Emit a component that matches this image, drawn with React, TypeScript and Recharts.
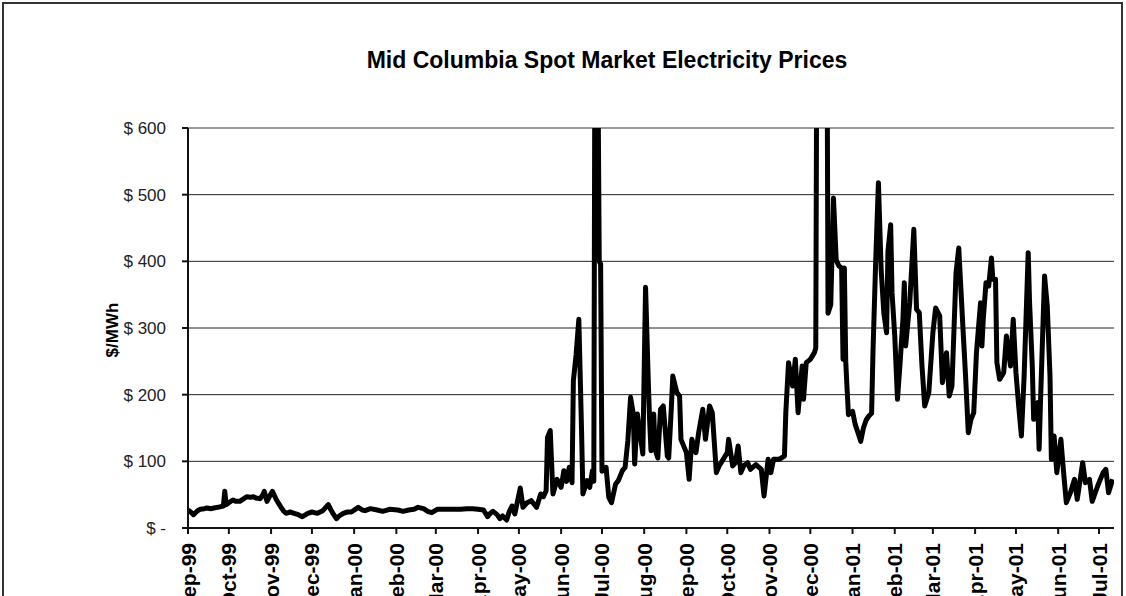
import React from "react";
import { LineChart, Line, XAxis, YAxis, CartesianGrid, ReferenceLine } from "recharts";

const monthLabels = ["Sep-99","Oct-99","Nov-99","Dec-99","Jan-00","Feb-00","Mar-00","Apr-00","May-00","Jun-00","Jul-00","Aug-00","Sep-00","Oct-00","Nov-00","Dec-00","Jan-01","Feb-01","Mar-01","Apr-01","May-01","Jun-01","Jul-01"];
const monthStarts = ["1999-09-01","1999-10-01","1999-11-01","1999-12-01","2000-01-01","2000-02-01","2000-03-01","2000-04-01","2000-05-01","2000-06-01","2000-07-01","2000-08-01","2000-09-01","2000-10-01","2000-11-01","2000-12-01","2001-01-01","2001-02-01","2001-03-01","2001-04-01","2001-05-01","2001-06-01","2001-07-01"];
const yTicks = [0, 100, 200, 300, 400, 500, 600];

const dates = [
"1999-09-01","1999-09-03","1999-09-05","1999-09-08","1999-09-10","1999-09-13","1999-09-15","1999-09-18","1999-09-20","1999-09-23","1999-09-25","1999-09-27","1999-09-28","1999-09-29",
"1999-10-01","1999-10-04","1999-10-06","1999-10-09","1999-10-12","1999-10-14","1999-10-17","1999-10-19","1999-10-21","1999-10-24","1999-10-26","1999-10-27","1999-10-29","1999-10-31",
"1999-11-02","1999-11-05","1999-11-08","1999-11-10","1999-11-12","1999-11-15","1999-11-18","1999-11-21","1999-11-24","1999-11-28",
"1999-12-01","1999-12-05","1999-12-09","1999-12-13","1999-12-15","1999-12-17","1999-12-19","1999-12-21","1999-12-24","1999-12-27","1999-12-30",
"2000-01-04","2000-01-07","2000-01-09","2000-01-13","2000-01-18","2000-01-22","2000-01-27",
"2000-02-02","2000-02-06","2000-02-10","2000-02-14","2000-02-17","2000-02-21","2000-02-24","2000-02-27",
"2000-03-02","2000-03-08","2000-03-14","2000-03-19","2000-03-24","2000-03-28",
"2000-04-01","2000-04-05","2000-04-08","2000-04-10","2000-04-12","2000-04-15","2000-04-17","2000-04-19","2000-04-22","2000-04-24","2000-04-26","2000-04-28",
"2000-05-02","2000-05-04","2000-05-07","2000-05-10","2000-05-12","2000-05-14","2000-05-17","2000-05-19","2000-05-21","2000-05-22","2000-05-24","2000-05-26","2000-05-29",
"2000-06-01","2000-06-03","2000-06-05","2000-06-07","2000-06-09","2000-06-10","2000-06-12","2000-06-14","2000-06-16","2000-06-17","2000-06-20","2000-06-22","2000-06-24","2000-06-25","2000-06-26","2000-06-27","2000-06-28","2000-06-29","2000-06-30",
"2000-07-01","2000-07-04","2000-07-06","2000-07-08","2000-07-11","2000-07-13","2000-07-16","2000-07-18","2000-07-20","2000-07-22","2000-07-24","2000-07-25","2000-07-27","2000-07-31",
"2000-08-02","2000-08-04","2000-08-05","2000-08-06","2000-08-08","2000-08-09","2000-08-11","2000-08-13","2000-08-15","2000-08-18","2000-08-19","2000-08-21","2000-08-22","2000-08-25","2000-08-27","2000-08-28",
"2000-09-01","2000-09-03","2000-09-05","2000-09-08","2000-09-10","2000-09-13","2000-09-15","2000-09-18","2000-09-20","2000-09-23","2000-09-25","2000-09-28",
"2000-10-01","2000-10-02","2000-10-05","2000-10-07","2000-10-09","2000-10-11","2000-10-13","2000-10-16","2000-10-18","2000-10-22","2000-10-26","2000-10-28","2000-10-31",
"2000-11-02","2000-11-04","2000-11-08","2000-11-12","2000-11-13","2000-11-15","2000-11-18","2000-11-20","2000-11-22","2000-11-25","2000-11-26","2000-11-28",
"2000-12-01","2000-12-04","2000-12-05","2000-12-06","2000-12-08","2000-12-11","2000-12-13","2000-12-14","2000-12-16","2000-12-18","2000-12-20","2000-12-22","2000-12-24","2000-12-25","2000-12-26","2000-12-27","2000-12-28","2000-12-29",
"2001-01-01","2001-01-03","2001-01-05","2001-01-07","2001-01-09","2001-01-11","2001-01-13","2001-01-15","2001-01-16","2001-01-18","2001-01-20","2001-01-22","2001-01-24","2001-01-26","2001-01-27","2001-01-29","2001-01-30",
"2001-02-01","2001-02-03","2001-02-05","2001-02-07","2001-02-08","2001-02-09","2001-02-12","2001-02-15","2001-02-17","2001-02-19","2001-02-21","2001-02-23","2001-02-26",
"2001-03-01","2001-03-03","2001-03-06","2001-03-08","2001-03-11","2001-03-13","2001-03-15","2001-03-18","2001-03-20","2001-03-23","2001-03-25","2001-03-27","2001-03-29","2001-03-31",
"2001-04-02","2001-04-03","2001-04-05","2001-04-06","2001-04-07","2001-04-09","2001-04-11","2001-04-13","2001-04-14","2001-04-16","2001-04-17","2001-04-19","2001-04-22","2001-04-24","2001-04-27","2001-04-29",
"2001-05-01","2001-05-03","2001-05-05","2001-05-07","2001-05-10","2001-05-11","2001-05-13","2001-05-14","2001-05-17","2001-05-18","2001-05-19","2001-05-22","2001-05-24","2001-05-26","2001-05-27","2001-05-29","2001-05-31",
"2001-06-03","2001-06-05","2001-06-07","2001-06-10","2001-06-13","2001-06-15","2001-06-19","2001-06-21","2001-06-24","2001-06-26","2001-06-30",
"2001-07-04","2001-07-06","2001-07-08","2001-07-11"
];

const prices = [
27,24,20,26,28,29,30,29,30,31,32,33,55,35,
38,42,40,40,44,47,46,47,45,44,50,55,40,48,
55,42,32,26,22,24,22,20,17,22,
24,22,26,35,27,20,14,18,22,24,24,
31,27,26,29,27,25,28,
27,25,27,28,31,29,25,23,
28,28,28,28,29,29,
28,27,17,22,25,20,14,18,12,25,33,21,
60,31,38,41,36,31,51,47,56,136,146,51,73,
61,86,70,91,68,221,260,313,146,51,71,61,86,70,900,1000,700,400,396,
85,91,46,38,66,71,86,91,131,196,171,96,171,111,
361,220,161,116,171,118,105,178,183,108,105,183,228,203,198,133,
113,73,133,113,143,178,133,183,173,83,93,103,
113,133,93,98,123,83,93,98,88,95,88,48,103,
83,103,103,108,173,248,213,253,173,243,193,248,
253,263,270,900,1500,1200,900,322,335,495,402,393,390,253,390,250,208,170,
175,155,143,130,150,162,168,172,263,400,518,388,322,293,415,455,353,
288,193,250,313,368,273,338,448,328,323,243,183,203,
293,330,318,218,263,198,213,383,420,303,228,143,163,173,
263,288,338,273,313,368,363,405,373,373,248,223,233,288,243,313,
233,183,138,228,413,338,243,163,188,118,188,378,333,228,103,138,83,
133,83,38,53,73,43,98,68,73,40,63,
83,88,53,73
];

const BASE = Date.parse("1999-09-01");
const toDay = (s: string) => Math.round((Date.parse(s) - BASE) / 86400000);

const data = dates.map((d, i) => ({ day: toDay(d), price: prices[i] }));
const tickDays = monthStarts.map(toDay);
const labelByDay: Record<number, string> = {};
tickDays.forEach((d, i) => { labelByDay[d] = monthLabels[i]; });

const FONT = '"Liberation Sans", Arial, Helvetica, sans-serif';

const XTick = (props: any) => {
  const { x, y, payload } = props;
  const ty = y + 7;
  return (
    <text
      x={x}
      y={ty}
      transform={`rotate(-90, ${x}, ${ty})`}
      textAnchor="end"
      dominantBaseline="central"
      fontFamily={FONT}
      fontWeight="bold"
      fontSize={21}
      fill="#000"
    >
      {labelByDay[payload.value]}
    </text>
  );
};

export default function App() {
  return (
    <div style={{ position: "fixed", left: 0, top: 0, width: 1126, height: 596, overflow: "hidden", background: "#fff" }}>
      <div style={{ position: "absolute", left: 2, top: 2, width: 1121, height: 700, border: "2px solid #333", boxSizing: "border-box" }} />
      <div style={{ position: "absolute", left: 0, width: 1126, top: 46, lineHeight: "28px", textAlign: "center", paddingLeft: 88, boxSizing: "border-box", fontFamily: FONT, fontWeight: "bold", fontSize: 23, color: "#000" }}>
        Mid Columbia Spot Market Electricity Prices
      </div>
      <div style={{ position: "absolute", left: 113, top: 330, transform: "translate(-50%, -50%) rotate(-90deg)", fontFamily: FONT, fontWeight: 900, fontSize: 17, color: "#000", whiteSpace: "nowrap" }}>
        $/MWh
      </div>
      <div style={{ position: "absolute", left: 0, top: 0 }}>
        <LineChart width={1126} height={660} data={data} margin={{ top: 128, right: 12, bottom: 72, left: 108 }}>
          <CartesianGrid vertical={false} stroke="#222" strokeWidth={1} />
          <XAxis
            dataKey="day"
            type="number"
            domain={[0, 680]}
            ticks={tickDays}
            interval={0}
            allowDataOverflow
            height={60}
            tickSize={6}
            stroke="#111"
            strokeWidth={2}
            tick={XTick}
          />
          <YAxis
            type="number"
            domain={[0, 600]}
            ticks={yTicks}
            allowDataOverflow
            width={80}
            tickSize={6}
            tickMargin={16}
            stroke="#111"
            strokeWidth={2}
            tickFormatter={(v: number) => (v === 0 ? "$ -" : `$ ${v}`)}
            tick={{ fontFamily: FONT, fontSize: 17, fill: "#222" }}
          />
          <ReferenceLine y={600} stroke="#999" strokeWidth={2} />
          <Line
            type="linear"
            dataKey="price"
            stroke="#000"
            strokeWidth={5}
            strokeLinejoin="round"
            dot={false}
            isAnimationActive={false}
          />
        </LineChart>
      </div>
    </div>
  );
}
